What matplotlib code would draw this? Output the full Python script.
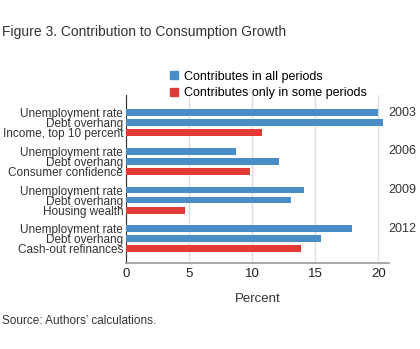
import numpy as np
import matplotlib
matplotlib.use("Agg")
import matplotlib.pyplot as plt
from matplotlib.patches import Patch

plt.rcParams["font.family"] = ["Liberation Sans", "DejaVu Sans"]

# datos por periodo
anios = ["2003", "2006", "2009", "2012"]
etiquetas = [
    ["Unemployment rate", "Debt overhang", "Income, top 10 percent"],
    ["Unemployment rate", "Debt overhang", "Consumer confidence"],
    ["Unemployment rate", "Debt overhang", "Housing wealth"],
    ["Unemployment rate", "Debt overhang", "Cash-out refinances"],
]
valores = [
    [20.0, 20.35, 10.75],
    [8.7, 12.15, 9.85],
    [14.1, 13.05, 4.65],
    [17.9, 15.45, 13.85],
]
# 0 = contribuye en todos los periodos, 1 = solo en algunos
tipo = [0, 0, 1]

azul = "#4a8dc6"
rojo = "#e23a37"
colores = [azul, rojo]

fig = plt.figure(figsize=(4.2, 3.49), dpi=100)
ax = fig.add_axes([0.3, 0.247, 0.626, 0.481])

paso_grupo = 3.85
ys, vals, cols, labs = [], [], [], []
for g, anio in enumerate(anios):
    for i in range(3):
        ys.append(g * paso_grupo + i)
        vals.append(valores[g][i])
        cols.append(colores[tipo[i]])
        labs.append(etiquetas[g][i])
    ax.text(0.998, g * paso_grupo, anio, transform=ax.get_yaxis_transform(),
            ha="left", va="center", fontsize=9, color="#333333")

ax.barh(ys, vals, height=0.68, color=cols, edgecolor="none", zorder=3)

ax.set_ylim(ys[-1] + 1.4, -1.77)
ax.set_xlim(0, 20.85)
ax.set_yticks(ys)
ax.set_yticklabels(labs, fontsize=8.5, color="#333333")
ax.set_xticks([0, 5, 10, 15, 20])
ax.tick_params(axis="x", labelsize=9.5, colors="#222222", length=0, pad=4)
ax.tick_params(axis="y", length=0, pad=2)
ax.grid(axis="x", color="#dddddd", linewidth=1, zorder=0)
ax.set_xlabel("Percent", fontsize=9.5, color="#333333", labelpad=9)

for lado in ["top", "right"]:
    ax.spines[lado].set_visible(False)
ax.spines["left"].set_color("#333333")
ax.spines["bottom"].set_color("#999999")
ax.spines["bottom"].set_linewidth(1.2)

leyenda = [Patch(color=azul, label="Contributes in all periods"),
           Patch(color=rojo, label="Contributes only in some periods")]
fig.legend(handles=leyenda, loc="upper left", bbox_to_anchor=(0.39, 0.815),
           frameon=False, fontsize=9, handlelength=0.6, handleheight=0.6,
           handletextpad=0.5, labelspacing=0.35, borderpad=0)

fig.text(0.005, 0.908, "Figure 3. Contribution to Consumption Growth",
         fontsize=10, color="#333333", ha="left", va="center")
fig.text(0.005, 0.081, "Source: Authors\u2019 calculations.",
         fontsize=8.5, color="#333333", ha="left", va="center")

fig.savefig("out.png", dpi=100)
